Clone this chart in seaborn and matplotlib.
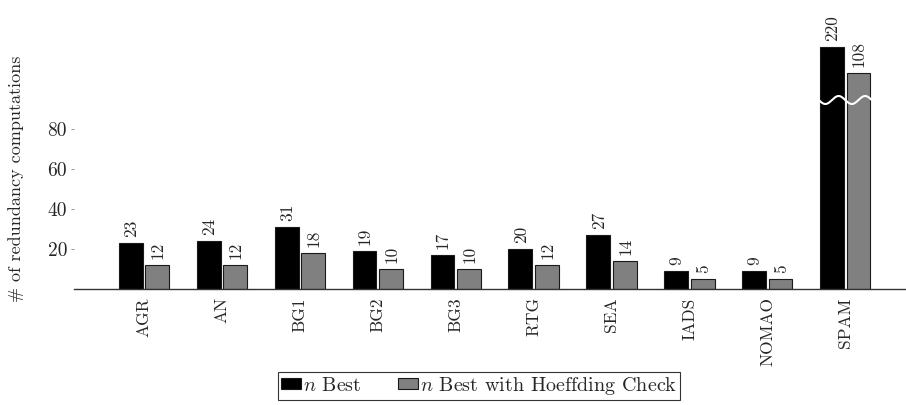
import numpy as np
import pandas as pd
import matplotlib
matplotlib.use("Agg")
import matplotlib.pyplot as plt
import seaborn as sns
from matplotlib.patches import Patch

categories = ["AGR", "AN", "BG1", "BG2", "BG3", "RTG", "SEA", "IADS", "NOMAO", "SPAM"]
n_best = [23, 24, 31, 19, 17, 20, 27, 9, 9, 220]
n_best_hoeffding = [12, 12, 18, 10, 10, 12, 14, 5, 5, 108]
series_names = ["$n$ Best", "$n$ Best with Hoeffding Check"]
y_ticks = [20, 40, 60, 80]
display_cap = 121      # broken axis: values above this are drawn truncated
break_value = 94.5     # where the wavy break mark sits

sns.set_theme(style="white")
plt.rcParams["font.family"] = ["cmr10", "DejaVu Serif"]
plt.rcParams["mathtext.fontset"] = "cm"
plt.rcParams["axes.formatter.use_mathtext"] = True

df = pd.DataFrame({
    "cat": categories * 2,
    "series": [series_names[0]] * len(categories) + [series_names[1]] * len(categories),
    "value": n_best + n_best_hoeffding,
})
df["shown"] = df["value"].clip(upper=display_cap)

fig = plt.figure(figsize=(9.06, 4.05), dpi=100)
ax = fig.add_axes([74 / 906, 116 / 405, 832 / 906, 250 / 405])

sns.barplot(data=df, x="cat", y="shown", hue="series", order=categories,
            hue_order=series_names, palette=["#000000", "#808080"],
            width=0.68, gap=0.1, edgecolor="#1a1a1a", linewidth=0.8,
            saturation=1, ax=ax, legend=False)

# value labels
for cont, vals in zip(ax.containers, [n_best, n_best_hoeffding]):
    for bar, v in zip(cont, vals):
        ax.annotate(str(v), (bar.get_x() + bar.get_width() / 2, bar.get_height()),
                    xytext=(0.5, 4.5), textcoords="offset points", rotation=90,
                    ha="center", va="bottom", fontsize=12.5)

# wavy break mark on SPAM
i = categories.index("SPAM")
xs = np.linspace(i - 0.34, i + 0.34, 200)
ys = break_value - 2.0 * np.sin((xs - (i - 0.34)) / 0.68 * 2 * np.pi * 2)
ax.plot(xs, ys, color="white", lw=1.5, zorder=5)

ax.set_xlim(-0.9, 9.78)
ax.set_ylim(0, 125)
ax.set_yticks(y_ticks)
ax.set_yticklabels([str(t) for t in y_ticks], fontsize=14)
ax.tick_params(axis="y", length=2, width=0.6, color="#888888", left=True, pad=3)
ax.tick_params(axis="x", length=0, pad=6)
for lab in ax.get_xticklabels():
    lab.set_rotation(90)
    lab.set_fontsize(12.5)
ax.set_xlabel("")
ax.set_ylabel("# of redundancy computations", fontsize=13)
ax.yaxis.set_label_coords(-0.06, 0.44)

for s in ["top", "right", "left"]:
    ax.spines[s].set_visible(False)
ax.spines["bottom"].set_color("#333333")
ax.spines["bottom"].set_linewidth(1.0)

handles = [Patch(facecolor="#000000", edgecolor="#1a1a1a", lw=0.8),
           Patch(facecolor="#808080", edgecolor="#1a1a1a", lw=0.8)]
leg = fig.legend(handles, series_names, loc="center", bbox_to_anchor=(0.529, 0.047),
                 ncol=2, frameon=True, fancybox=False, fontsize=14.5,
                 handlelength=1.0, handleheight=0.45, handletextpad=0.1,
                 columnspacing=1.8, borderpad=0.15, borderaxespad=0)
leg.get_frame().set_edgecolor("black")
leg.get_frame().set_linewidth(0.8)

fig.savefig("out.png", dpi=100)
